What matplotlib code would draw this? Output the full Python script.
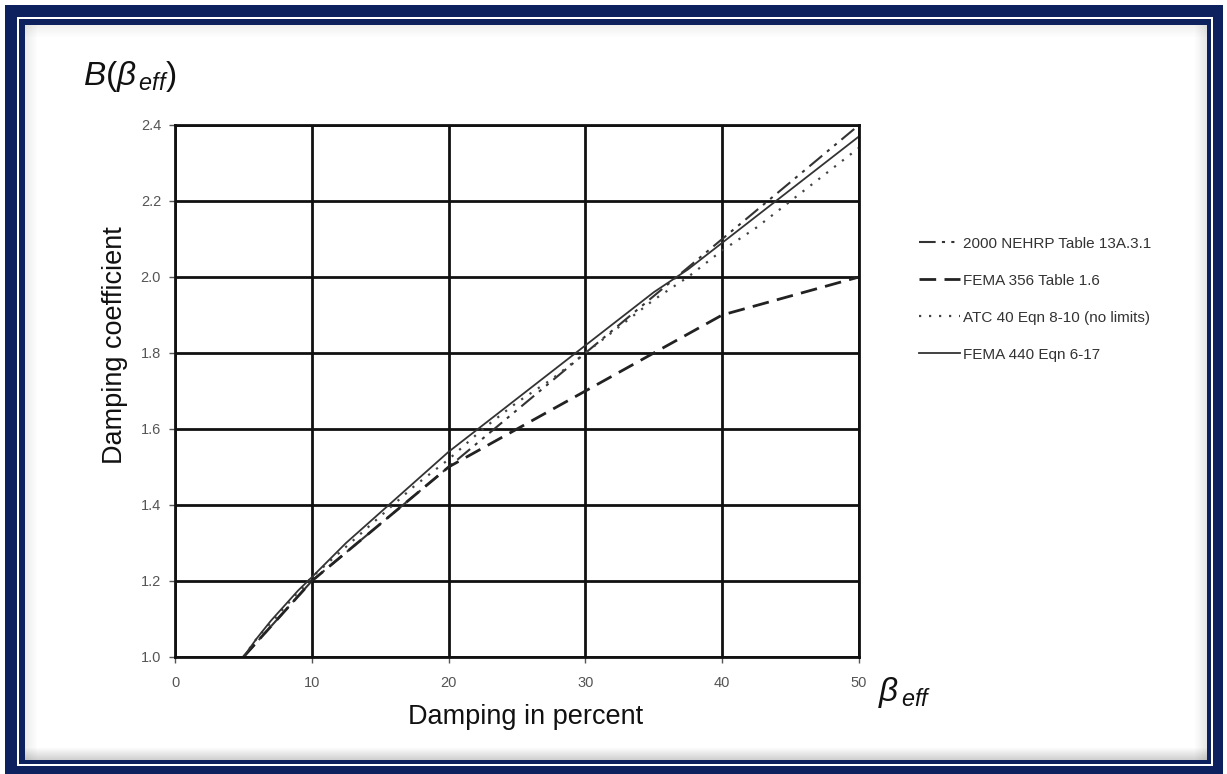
import matplotlib
matplotlib.use("Agg")
import matplotlib.pyplot as plt
from matplotlib.patches import Rectangle

plt.rcParams['font.family'] = ['Liberation Sans', 'DejaVu Sans']
plt.rcParams['mathtext.fontset'] = 'custom'
plt.rcParams['mathtext.rm'] = 'Liberation Sans'
plt.rcParams['mathtext.it'] = 'Liberation Sans:italic'

# ---- data ----
x_nehrp = [5, 10, 20, 30, 40, 50]
y_nehrp = [1.0, 1.2, 1.5, 1.8, 2.1, 2.4]

x_fema356 = [5, 10, 20, 30, 40, 50]
y_fema356 = [1.0, 1.2, 1.5, 1.7, 1.9, 2.0]

x_curve = [5, 6, 7, 8, 9, 10, 12.5, 15, 17.5, 20, 22.5, 25, 27.5, 30,
           32.5, 35, 37.5, 40, 42.5, 45, 47.5, 50]
y_atc40 = [1.00, 1.05, 1.09, 1.13, 1.17, 1.21, 1.29, 1.37, 1.45, 1.52, 1.60,
           1.67, 1.73, 1.80, 1.87, 1.94, 2.00, 2.07, 2.13, 2.20, 2.27, 2.34]
y_fema440 = [1.00, 1.05, 1.095, 1.135, 1.175, 1.21, 1.30, 1.38, 1.46, 1.54, 1.61,
             1.68, 1.75, 1.82, 1.89, 1.96, 2.02, 2.09, 2.16, 2.23, 2.30, 2.37]

labels = ["2000 NEHRP Table 13A.3.1", "FEMA 356 Table 1.6",
          "ATC 40 Eqn 8-10 (no limits)", "FEMA 440 Eqn 6-17"]
x_ticks = [0, 10, 20, 30, 40, 50]
y_ticks = [1.0, 1.2, 1.4, 1.6, 1.8, 2.0, 2.2, 2.4]

W, H = 1227, 774
fig = plt.figure(figsize=(W / 100, H / 100), dpi=100)
fig.patch.set_facecolor('white')

NAVY = '#0c215e'

def prect(x0, y0, x1, y1, color, alpha=1.0, z=-20):
    r = Rectangle((x0 / W, 1 - y1 / H), (x1 - x0) / W, (y1 - y0) / H,
                  transform=fig.transFigure, facecolor=color, edgecolor='none',
                  alpha=alpha, zorder=z)
    fig.patches.append(r)

# frame
prect(5, 5, 1223, 774, NAVY)
prect(17, 17, 1213, 766, 'white')
prect(19, 19, 1211, 764, NAVY)
prect(25, 25, 1207, 760, 'white')
# inner shadow
for i in range(12):
    a = 0.12 * (1 - i / 12)
    g = '#505050'
    prect(25, 25 + i, 1207, 26 + i, g, a * 0.7, -10)      # top
    prect(25 + i, 25, 26 + i, 760, g, a * 0.9, -10)       # left
    prect(1206 - i, 25, 1207 - i, 760, g, a * 1.1, -10)   # right
    prect(25, 759 - i, 1207, 760 - i, g, a * 2.2, -10)    # bottom

ax = fig.add_axes([175 / W, 1 - 657 / H, (859 - 175) / W, (657 - 125) / H])
ax.set_zorder(5)
ax.set_xlim(0, 50)
ax.set_ylim(1.0, 2.4)
ax.set_xticks(x_ticks)
ax.set_yticks(y_ticks)
ax.set_xticklabels([str(t) for t in x_ticks])
ax.set_yticklabels([f"{t:.1f}" for t in y_ticks])
ax.tick_params(axis='both', labelsize=10.5, colors='#555555', length=4, width=1,
               direction='out', pad=6)
ax.tick_params(axis='x', pad=10)
ax.grid(True, color='#111111', linewidth=2)
for s in ax.spines.values():
    s.set_linewidth(2)
    s.set_color('#111111')

l1, = ax.plot(x_nehrp, y_nehrp, color='#333333', lw=1.5,
              dashes=(8, 3, 1.5, 3, 1.5, 3), label=labels[0])
l2, = ax.plot(x_fema356, y_fema356, color='#222222', lw=2.0,
              dashes=(6, 3), label=labels[1])
l3, = ax.plot(x_curve, y_atc40, color='#444444', lw=1.6,
              dashes=(1, 3.5), label=labels[2])
l4, = ax.plot(x_curve, y_fema440, color='#333333', lw=1.3, label=labels[3])

fig.text(526 / W, 1 - 717 / H, "Damping in percent", fontsize=19.5,
         color='#111111', ha='center', va='center', zorder=6)
fig.text(115 / W, 1 - 345 / H, "Damping coefficient", fontsize=19.5,
         color='#111111', ha='center', va='center', rotation=90, zorder=6)

fig.text(83 / W, 1 - 77 / H, r'$B(\beta_{\,eff})$', fontsize=24,
         color='#111111', va='center', ha='left', zorder=6)
fig.text(878 / W, 1 - 693 / H, r'$\beta_{\,eff}$', fontsize=24,
         color='#111111', va='center', ha='left', zorder=6)

leg = fig.legend(handles=[l1, l2, l3, l4], labels=labels,
                 loc='upper left', bbox_to_anchor=(905 / W, 1 - 223 / H),
                 frameon=False, fontsize=11, handlelength=2.7,
                 handletextpad=0.2, labelspacing=1.5, labelcolor='#333333')
leg.set_zorder(6)

fig.savefig("out.png", dpi=100)
